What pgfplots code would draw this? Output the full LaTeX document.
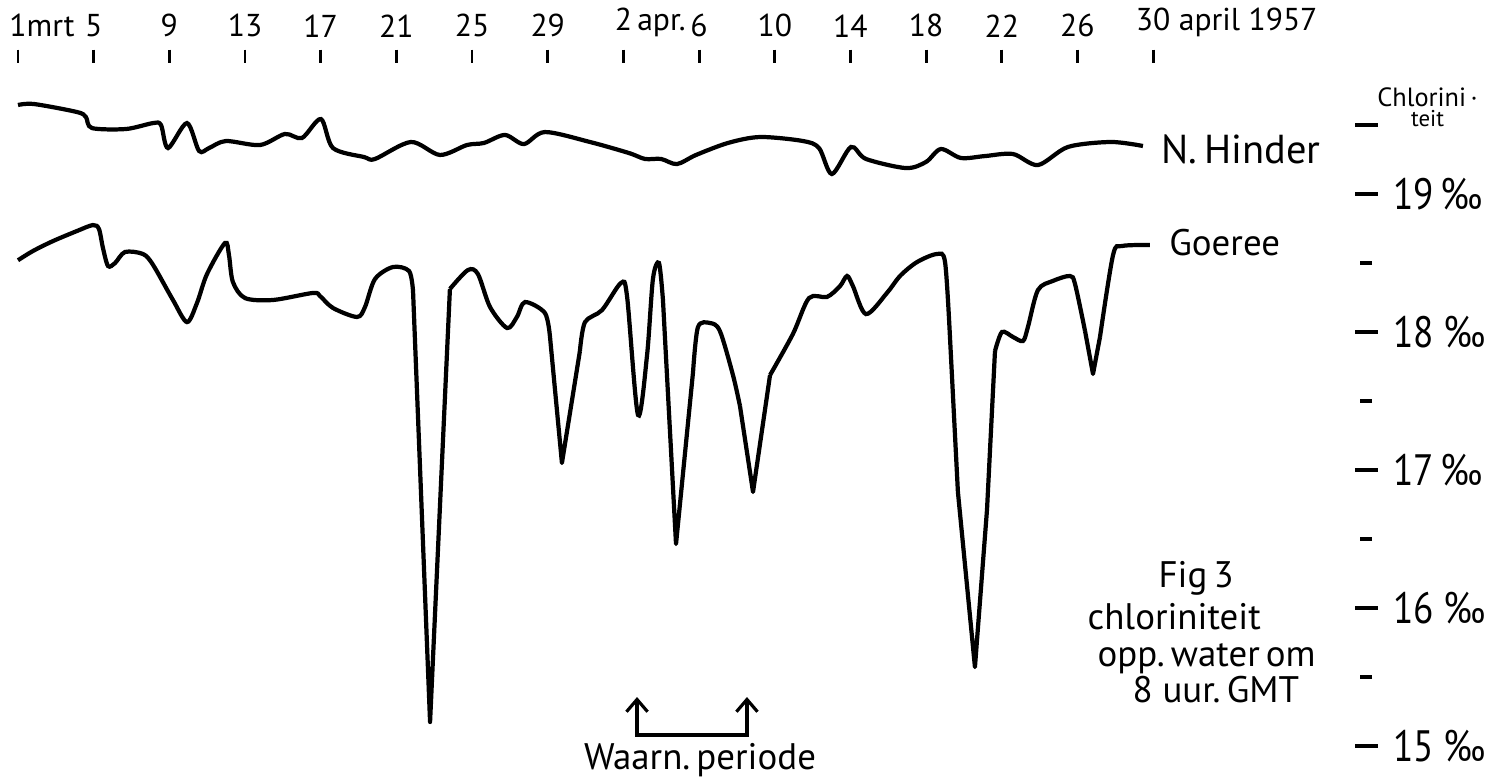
\documentclass[border=0pt]{standalone}
\usepackage{pgfplots}
\pgfplotsset{compat=1.18}
\usepackage{fontspec}
\setmainfont{PT Sans}
\usetikzlibrary{arrows.meta}

\begin{document}
\begin{tikzpicture}[x=1cm,y=1cm]
\path[use as bounding box] (0,0) rectangle (14.93,7.82);
\pgfplotsset{chl/.style={
  scale only axis, width=13.48cm, height=7.176cm,
  at={(0.18cm,0.084cm)}, anchor=south west,
  xmin=0, xmax=71.25, ymin=14.8, ymax=20,
  axis line style={draw=none}, clip=false,
  tick align=center,
},
sm/.style={black, line width=1.2pt, smooth, tension=0.5},
sh/.style={black, line width=1.2pt, sharp plot, line join=round},
}
\begin{axis}[chl,
  axis x line*=top, axis y line*=left, ytick=\empty,
  xtick={0,4,...,60},
  xticklabels={{1\rlap{mrt}},5,9,13,17,21,25,29,{2\rlap{\,apr.}},6,10,14,18,22,26,{30\rlap{ april 1957}}},
  major tick length=0.13cm,
  xtick style={line width=0.8pt, black},
  xticklabel style={font=\fontsize{9}{10}\selectfont},
]
% N. Hinder
\addplot[sm] coordinates {
(0,19.645)(0.85,19.652)(3.12,19.594)(3.59,19.558)(3.91,19.478)(5.71,19.471)(7.14,19.514)(7.56,19.500)(7.93,19.333)(8.93,19.514)(9.57,19.312)(10.10,19.333)(10.99,19.384)(12.79,19.355)(14.11,19.435)(15.01,19.406)(16.01,19.543)(16.65,19.333)(18.29,19.268)(18.87,19.254)(20.77,19.377)(22.30,19.283)(23.73,19.355)(24.63,19.370)(25.74,19.428)(26.74,19.362)(27.85,19.449)(30.23,19.377)(32.29,19.297)(33.14,19.254)(33.99,19.254)(34.83,19.217)(35.84,19.283)(37.53,19.370)(39.22,19.413)(41.49,19.384)(42.34,19.333)(43.02,19.145)(44.03,19.341)(44.82,19.254)(46.93,19.188)(47.99,19.232)(48.78,19.326)(49.84,19.261)(51.11,19.275)(52.59,19.290)(53.91,19.210)(55.50,19.341)(57.77,19.377)(59.46,19.348)
};
% Goeree
\addplot[sm] coordinates {
(0,18.52)(0.79,18.587)(1.85,18.659)(3.12,18.732)(3.96,18.775)(4.28,18.746)(4.49,18.609)(4.76,18.478)(5.13,18.500)(5.66,18.580)(6.61,18.565)(7.14,18.486)(8.19,18.232)(8.93,18.072)(9.46,18.210)(9.99,18.420)(10.94,18.645)(11.15,18.558)(11.36,18.362)(12.00,18.246)(13.48,18.232)(15.59,18.283)(15.96,18.261)(16.65,18.174)(17.92,18.109)(18.34,18.181)(18.87,18.384)(19.82,18.471)(20.67,18.442)(20.88,18.297)
};
\addplot[sh] coordinates {(20.88,18.297)(21.78,15.174)(22.83,18.312)};
\addplot[sm] coordinates {
(22.83,18.312)(23.78,18.449)(24.31,18.420)(24.95,18.181)(25.85,18.029)(26.37,18.109)(26.80,18.217)(27.85,18.138)(28.12,17.964)
};
\addplot[sh] coordinates {(28.12,17.964)(28.75,17.051)(29.70,17.862)};
\addplot[sm] coordinates {
(29.70,17.862)(29.97,18.072)(30.87,18.159)(31.87,18.355)(32.19,18.261)(32.77,17.399)(33.25,17.833)(33.56,18.384)(33.88,18.500)(34.09,18.232)
};
\addplot[sh] coordinates {(34.09,18.232)(34.78,16.464)(35.68,17.710)};
\addplot[sm] coordinates {
(35.68,17.710)(35.94,18.036)(36.58,18.065)(37.10,18.007)(37.79,17.688)(38.16,17.464)
};
\addplot[sh] coordinates {(38.16,17.464)(38.85,16.841)(39.75,17.688)};
\addplot[sm] coordinates {
(39.75,17.688)(40.96,17.986)(41.81,18.246)(42.76,18.254)(43.45,18.333)(43.82,18.406)(44.13,18.333)(44.82,18.130)(45.93,18.283)(46.62,18.406)(47.52,18.507)(48.57,18.565)(49.00,18.507)(49.26,17.964)
};
\addplot[sh] coordinates {(49.26,17.964)(49.68,16.841)(50.58,15.572)(51.22,16.717)(51.64,17.862)};
\addplot[sm] coordinates {
(51.64,17.862)(52.01,18.000)(52.59,17.964)(53.12,17.935)(53.38,18.036)(53.91,18.304)(54.70,18.370)(55.60,18.406)(55.87,18.348)(56.40,18.007)
};
\addplot[sh] coordinates {(56.40,18.007)(56.82,17.696)(57.19,17.964)};
\addplot[sm] coordinates {(57.19,17.964)(57.88,18.558)(58.35,18.623)(59.83,18.630)};

\node[anchor=west, font=\fontsize{11.5}{12}\selectfont] at (axis cs:59.8,19.32) {N.\,Hinder};
\node[anchor=west, font=\fontsize{10.5}{12}\selectfont] at (axis cs:60.2,18.65) {Goeree};
\node[align=center, inner sep=0pt, font=\fontsize{7.5}{4.5}\selectfont] at (axis cs:74.5,19.63) {Chlorini\,·\\{\fontsize{6.5}{4.5}\selectfont teit}};
\node[anchor=north west, align=left, inner sep=0pt, font=\fontsize{10.5}{10.3}\selectfont] at (axis cs:56.50,16.341)
  {\hspace*{0.71cm}Fig\,3\\[1.7pt]chloriniteit\\\hspace*{0.1cm}opp.\,water\,om\\\hspace*{0.45cm}8 uur.\,GMT};
\node[font=\fontsize{10.5}{12}\selectfont] at (axis cs:36.05,14.90) {Waarn.\,periode};
\draw[line width=0.9pt, {Straight Barb[length=3.5pt,width=6pt]}-{Straight Barb[length=3.5pt,width=6pt]}]
  (axis cs:32.72,15.355) -- (axis cs:32.72,15.08) -- (axis cs:38.53,15.08) -- (axis cs:38.53,15.355);
\end{axis}
\begin{axis}[chl,
  axis y line*=right, axis x line*=bottom, xtick=\empty,
  ytick={15,16,17,18,19,19.5},
  yticklabels={15 ‰,16 ‰,17\,‰,18 ‰,19\,‰,{}},
  minor ytick={15.5,16.5,17.5,18.5},
  major tick length=0.23cm, minor tick length=0.12cm,
  ytick style={line width=0.9pt, black},
  minor tick style={line width=0.9pt, black},
  yticklabel style={font=\fontsize{12.5}{13}\selectfont, anchor=west, xscale=0.85, xshift=0.06cm},
]
\end{axis}
\end{tikzpicture}
\end{document}
